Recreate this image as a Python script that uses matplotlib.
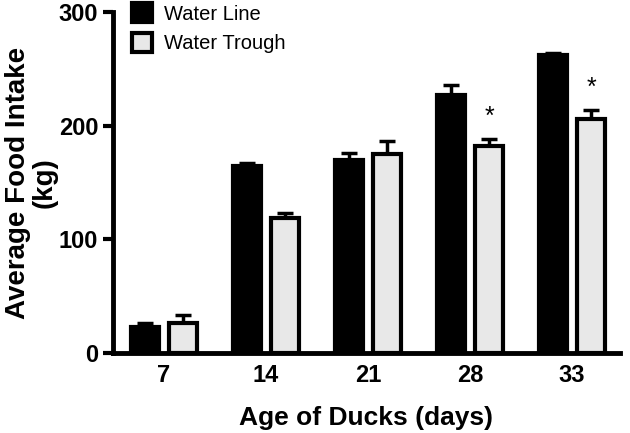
import matplotlib
matplotlib.use("Agg")
import matplotlib.pyplot as plt
import numpy as np

plt.rcParams['font.family'] = ['Liberation Sans', 'DejaVu Sans']

ages = ["7", "14", "21", "28", "33"]
line_vals = [23, 164.5, 170, 227, 262.5]
line_err = [3, 3, 6, 9, 1.5]
trough_vals = [26, 118.5, 175.5, 182, 206]
trough_err = [7, 5, 11, 6, 8]
stars = ["", "", "", "*", "*"]

fig = plt.figure(figsize=(6.3, 4.33), dpi=100)
ax = fig.add_axes([0.179, 0.185, 0.805, 0.787])

x = np.arange(len(ages))
w = 0.275
off = 0.187
lw = 3
ax.bar(x - off, line_vals, w, color='black', edgecolor='black', linewidth=lw,
       label='Water Line', zorder=3)
ax.bar(x + off, trough_vals, w, color='#e8e8e8', edgecolor='black', linewidth=lw,
       label='Water Trough', zorder=3)
ax.errorbar(x - off, line_vals, yerr=[np.zeros(len(x)), line_err], fmt='none',
            ecolor='black', elinewidth=2.5, capsize=6, capthick=2.5, zorder=2)
ax.errorbar(x + off, trough_vals, yerr=[np.zeros(len(x)), trough_err], fmt='none',
            ecolor='black', elinewidth=2.5, capsize=6, capthick=2.5, zorder=2)
for xi, v, e, s in zip(x, trough_vals, trough_err, stars):
    if s:
        ax.text(xi + off, v + e + 9, s, ha='center', va='bottom', fontsize=18)

ax.set_xlim(-0.5, 4.47)
ax.set_ylim(0, 300)
ax.set_yticks([0, 100, 200, 300])
ax.set_xticks(x)
ax.set_xticklabels(ages)
for sp in ['top', 'right']:
    ax.spines[sp].set_visible(False)
for sp in ['left', 'bottom']:
    ax.spines[sp].set_linewidth(3.5)
ax.tick_params(axis='y', width=3, length=7, labelsize=17)
ax.tick_params(axis='x', length=0, labelsize=17, pad=8)
for lab in ax.get_xticklabels() + ax.get_yticklabels():
    lab.set_fontweight('bold')
ax.set_xlabel('Age of Ducks (days)', fontsize=19, fontweight='bold', labelpad=14)
ax.set_ylabel('Average Food Intake\n(kg)', fontsize=20, fontweight='bold', labelpad=1,
              linespacing=1.0)
ax.legend(loc='upper left', bbox_to_anchor=(0.003, 1.08), frameon=False, fontsize=14.5,
          handlelength=0.95, handleheight=1.1, handletextpad=0.6, labelspacing=0.45)

fig.savefig('out.png', dpi=100)
